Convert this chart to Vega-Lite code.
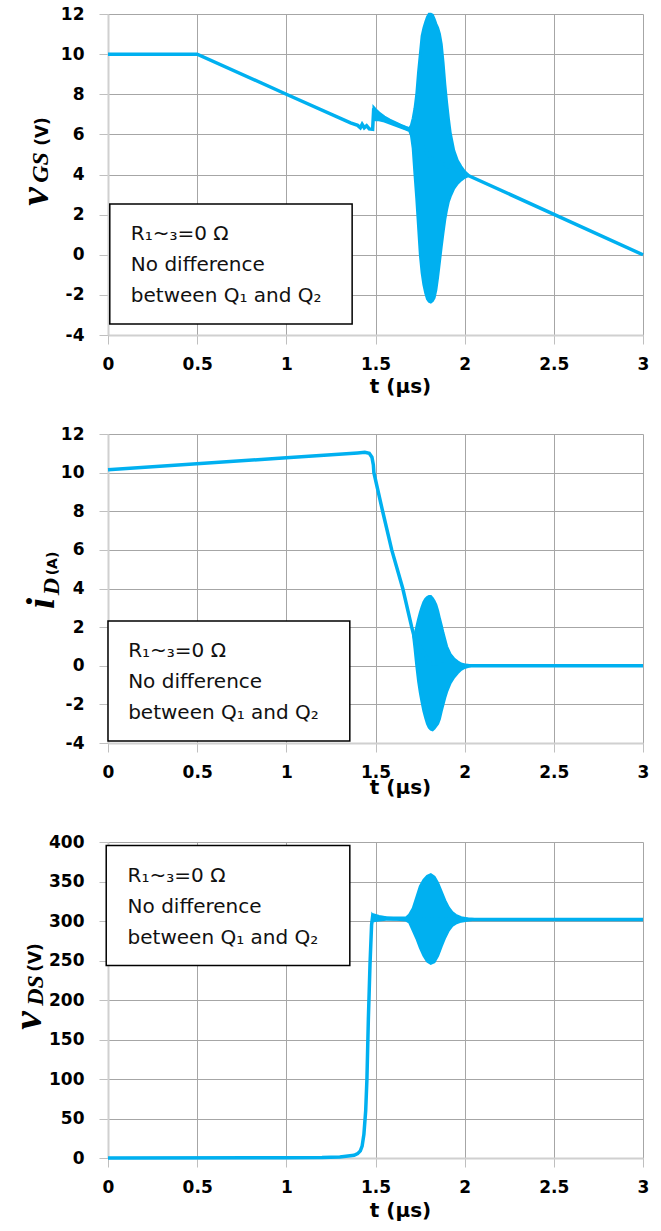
{
  "$schema": "https://vega.github.io/schema/vega-lite/v6.json",
  "background": "white",
  "padding": {"left": 6, "top": 5, "right": 2, "bottom": 5},
  "spacing": 99,
  "bounds": "flush",
  "datasets": {
    "gs_line": [
      {"t": 0, "v": 10}, {"t": 0.5, "v": 10}, {"t": 1.0, "v": 8.0}, {"t": 1.36, "v": 6.57}, {"t": 1.4, "v": 6.45},
      {"t": 1.415, "v": 6.33}, {"t": 1.425, "v": 6.5}, {"t": 1.437, "v": 6.33}, {"t": 1.45, "v": 6.43}, {"t": 1.465, "v": 6.27},
      {"t": 1.484, "v": 6.25}, {"t": 1.49, "v": 7.3}, {"t": 1.5, "v": 7.05}, {"t": 1.52, "v": 6.92}, {"t": 1.55, "v": 6.78},
      {"t": 1.6, "v": 6.57}, {"t": 1.65, "v": 6.38}, {"t": 1.69, "v": 6.25}, {"t": 1.7, "v": 6.2}, {"t": 1.81, "v": 4.8},
      {"t": 2.02, "v": 3.95}, {"t": 3.0, "v": 0.0}
    ],
    "gs_band": [
      {"t": 1.49, "lo": 6.75, "hi": 7.35}, {"t": 1.5, "lo": 6.72, "hi": 7.25}, {"t": 1.52, "lo": 6.72, "hi": 7.08},
      {"t": 1.55, "lo": 6.65, "hi": 6.88}, {"t": 1.58, "lo": 6.55, "hi": 6.72}, {"t": 1.61, "lo": 6.45, "hi": 6.6},
      {"t": 1.64, "lo": 6.35, "hi": 6.47}, {"t": 1.67, "lo": 6.25, "hi": 6.36}, {"t": 1.69, "lo": 6.18, "hi": 6.3},
      {"t": 1.7, "lo": 5.95, "hi": 6.45}, {"t": 1.71, "lo": 5.3, "hi": 6.8}, {"t": 1.72, "lo": 4.0, "hi": 7.3},
      {"t": 1.73, "lo": 2.8, "hi": 8.0}, {"t": 1.74, "lo": 1.4, "hi": 9.1}, {"t": 1.75, "lo": 0.0, "hi": 10.0},
      {"t": 1.76, "lo": -0.9, "hi": 10.9}, {"t": 1.77, "lo": -1.5, "hi": 11.3}, {"t": 1.78, "lo": -1.9, "hi": 11.6},
      {"t": 1.79, "lo": -2.2, "hi": 11.85}, {"t": 1.8, "lo": -2.33, "hi": 12.0}, {"t": 1.81, "lo": -2.37, "hi": 12.0},
      {"t": 1.82, "lo": -2.3, "hi": 11.95}, {"t": 1.83, "lo": -2.15, "hi": 11.75}, {"t": 1.84, "lo": -1.75, "hi": 11.5},
      {"t": 1.85, "lo": -1.1, "hi": 11.3}, {"t": 1.86, "lo": -0.35, "hi": 11.0}, {"t": 1.87, "lo": 0.4, "hi": 10.5},
      {"t": 1.88, "lo": 1.1, "hi": 9.6}, {"t": 1.89, "lo": 1.75, "hi": 8.5}, {"t": 1.9, "lo": 2.25, "hi": 7.6},
      {"t": 1.91, "lo": 2.65, "hi": 6.8}, {"t": 1.92, "lo": 2.9, "hi": 6.1}, {"t": 1.94, "lo": 3.3, "hi": 5.2},
      {"t": 1.96, "lo": 3.55, "hi": 4.7}, {"t": 1.98, "lo": 3.72, "hi": 4.4}, {"t": 2.0, "lo": 3.85, "hi": 4.15},
      {"t": 2.02, "lo": 3.93, "hi": 3.98}
    ],
    "id_line": [
      {"t": 0, "v": 10.15}, {"t": 1.0, "v": 10.77}, {"t": 1.4, "v": 11.02}, {"t": 1.44, "v": 11.05}, {"t": 1.465, "v": 11.0},
      {"t": 1.48, "v": 10.8}, {"t": 1.488, "v": 10.4}, {"t": 1.491, "v": 10.0}, {"t": 1.54, "v": 8.0}, {"t": 1.591, "v": 6.0},
      {"t": 1.653, "v": 4.0}, {"t": 1.703, "v": 2.0}, {"t": 1.72, "v": 1.4}, {"t": 1.81, "v": 0.1}, {"t": 2.03, "v": 0.0},
      {"t": 3.0, "v": 0.0}
    ],
    "id_band": [
      {"t": 1.712, "lo": 1.55, "hi": 1.75}, {"t": 1.72, "lo": 0.9, "hi": 1.6}, {"t": 1.73, "lo": 0.0, "hi": 2.0},
      {"t": 1.74, "lo": -0.8, "hi": 2.4}, {"t": 1.75, "lo": -1.4, "hi": 2.75}, {"t": 1.76, "lo": -1.9, "hi": 3.05},
      {"t": 1.77, "lo": -2.35, "hi": 3.3}, {"t": 1.78, "lo": -2.7, "hi": 3.45}, {"t": 1.79, "lo": -3.0, "hi": 3.55},
      {"t": 1.8, "lo": -3.2, "hi": 3.6}, {"t": 1.81, "lo": -3.3, "hi": 3.6}, {"t": 1.82, "lo": -3.33, "hi": 3.5},
      {"t": 1.83, "lo": -3.25, "hi": 3.35}, {"t": 1.84, "lo": -3.12, "hi": 3.15}, {"t": 1.85, "lo": -3.0, "hi": 2.85},
      {"t": 1.86, "lo": -2.75, "hi": 2.45}, {"t": 1.87, "lo": -2.35, "hi": 2.1}, {"t": 1.88, "lo": -2.0, "hi": 1.7},
      {"t": 1.89, "lo": -1.65, "hi": 1.35}, {"t": 1.9, "lo": -1.35, "hi": 1.0}, {"t": 1.92, "lo": -0.9, "hi": 0.6},
      {"t": 1.94, "lo": -0.6, "hi": 0.37}, {"t": 1.96, "lo": -0.38, "hi": 0.22}, {"t": 1.98, "lo": -0.2, "hi": 0.1},
      {"t": 2.0, "lo": -0.1, "hi": 0.05}, {"t": 2.03, "lo": -0.02, "hi": 0.02}
    ],
    "ds_line": [
      {"t": 0, "v": 0}, {"t": 1.0, "v": 0.2}, {"t": 1.2, "v": 0.5}, {"t": 1.3, "v": 1.3}, {"t": 1.38, "v": 3.5},
      {"t": 1.4, "v": 5.5}, {"t": 1.415, "v": 9}, {"t": 1.425, "v": 15}, {"t": 1.435, "v": 30}, {"t": 1.445, "v": 60},
      {"t": 1.452, "v": 100}, {"t": 1.46, "v": 176}, {"t": 1.469, "v": 244}, {"t": 1.478, "v": 295}, {"t": 1.484, "v": 306},
      {"t": 1.49, "v": 304}, {"t": 1.52, "v": 304}, {"t": 1.6, "v": 303}, {"t": 1.7, "v": 302.5}, {"t": 2.05, "v": 302},
      {"t": 3.0, "v": 302}
    ],
    "ds_band": [
      {"t": 1.49, "lo": 300, "hi": 308}, {"t": 1.52, "lo": 301, "hi": 306}, {"t": 1.56, "lo": 302, "hi": 304.5},
      {"t": 1.62, "lo": 302, "hi": 304}, {"t": 1.67, "lo": 301, "hi": 304}, {"t": 1.69, "lo": 298, "hi": 308},
      {"t": 1.71, "lo": 288, "hi": 316}, {"t": 1.73, "lo": 278, "hi": 330}, {"t": 1.75, "lo": 266, "hi": 344},
      {"t": 1.77, "lo": 256, "hi": 352}, {"t": 1.79, "lo": 249, "hi": 357}, {"t": 1.81, "lo": 246, "hi": 359},
      {"t": 1.83, "lo": 248, "hi": 356}, {"t": 1.85, "lo": 256, "hi": 348}, {"t": 1.87, "lo": 268, "hi": 337},
      {"t": 1.89, "lo": 279, "hi": 326}, {"t": 1.91, "lo": 288, "hi": 317}, {"t": 1.93, "lo": 294, "hi": 311},
      {"t": 1.95, "lo": 297, "hi": 307.5}, {"t": 1.98, "lo": 299.5, "hi": 304.5}, {"t": 2.02, "lo": 301, "hi": 303},
      {"t": 2.05, "lo": 301.7, "hi": 302.3}
    ]
  },
  "vconcat": [
    {
      "width": 535,
      "height": 321,
      "resolve": {"axis": {"y": "independent"}},
      "layer": [
        {
          "data": {"name": "gs_band"},
          "mark": {"type": "area", "color": "#00B0F0", "stroke": "#00B0F0", "strokeWidth": 2.5, "opacity": 1},
          "encoding": {
            "x": {"field": "t", "type": "quantitative", "scale": {"domain": [0, 3], "nice": false, "zero": false},
              "axis": {"values": [0, 0.5, 1, 1.5, 2, 2.5, 3], "format": "~g", "title": "t (μs)", "titleX": 292, "titleY": 57, "titleAlign": "center", "titleBaseline": "alphabetic"}},
            "y": {"field": "lo", "type": "quantitative", "scale": {"domain": [-4, 12], "nice": false, "zero": false},
              "axis": {"orient": "left", "values": [-4, -2, 0, 2, 4, 6, 8, 10, 12], "labelExpr": "replace(datum.label, '−', '-')",
                "title": "v", "titleFont": "Liberation Serif", "titleFontStyle": "italic", "titleFontWeight": "bold", "titleFontSize": 42,
                "titleX": -61, "titleY": 182, "titleAlign": "center", "titleBaseline": "alphabetic", "titleAngle": -90}},
            "y2": {"field": "hi"}
          }
        },
        {
          "data": {"name": "gs_line"},
          "mark": {"type": "line", "color": "#00B0F0", "strokeWidth": 3.5},
          "encoding": {
            "x": {"field": "t", "type": "quantitative"},
            "y": {"field": "v", "type": "quantitative",
              "axis": {"orient": "left", "title": "GS", "labels": false, "ticks": false, "domain": false, "grid": false,
                "titleFont": "Liberation Serif", "titleFontStyle": "italic", "titleFontWeight": "bold", "titleFontSize": 24,
                "titleX": -61, "titleY": 153, "titleAlign": "center", "titleBaseline": "alphabetic", "titleAngle": -90}}
          }
        },
        {
          "data": {"values": [{}]},
          "mark": {"type": "rect", "fill": "white", "stroke": "black", "strokeWidth": 1.5},
          "encoding": {
            "x": {"datum": 0.01, "type": "quantitative"},
            "x2": {"datum": 1.369},
            "y": {"datum": 2.53, "type": "quantitative",
              "axis": {"orient": "left", "title": "(V)", "labels": false, "ticks": false, "domain": false, "grid": false,
                "titleFont": "DejaVu Sans", "titleFontWeight": "bold", "titleFontSize": 17,
                "titleX": -61, "titleY": 117, "titleAlign": "center", "titleBaseline": "alphabetic", "titleAngle": -90}},
            "y2": {"datum": -3.45}
          }
        },
        {
          "data": {"values": [{}]},
          "mark": {"type": "text", "text": ["R₁~₃=0  Ω", "No difference", "between Q₁ and Q₂"], "align": "left", "baseline": "middle",
            "lineHeight": 31, "font": "DejaVu Sans", "fontSize": 20, "color": "#111"},
          "encoding": {
            "x": {"datum": 0.128, "type": "quantitative"},
            "y": {"datum": 1.03, "type": "quantitative", "axis": null}
          }
        }
      ]
    },
    {
      "width": 535,
      "height": 309,
      "resolve": {"axis": {"y": "independent"}},
      "layer": [
        {
          "data": {"name": "id_band"},
          "mark": {"type": "area", "color": "#00B0F0", "stroke": "#00B0F0", "strokeWidth": 2.5, "opacity": 1},
          "encoding": {
            "x": {"field": "t", "type": "quantitative", "scale": {"domain": [0, 3], "nice": false, "zero": false},
              "axis": {"values": [0, 0.5, 1, 1.5, 2, 2.5, 3], "format": "~g", "title": "t (μs)", "titleX": 292, "titleY": 50, "titleAlign": "center", "titleBaseline": "alphabetic"}},
            "y": {"field": "lo", "type": "quantitative", "scale": {"domain": [-4, 12], "nice": false, "zero": false},
              "axis": {"orient": "left", "values": [-4, -2, 0, 2, 4, 6, 8, 10, 12], "labelExpr": "replace(datum.label, '−', '-')",
                "title": "i", "titleFont": "Liberation Serif", "titleFontStyle": "italic", "titleFontWeight": "bold", "titleFontSize": 40,
                "titleX": -55, "titleY": 169, "titleAlign": "center", "titleBaseline": "alphabetic", "titleAngle": -90}},
            "y2": {"field": "hi"}
          }
        },
        {
          "data": {"name": "id_line"},
          "mark": {"type": "line", "color": "#00B0F0", "strokeWidth": 3.5},
          "encoding": {
            "x": {"field": "t", "type": "quantitative"},
            "y": {"field": "v", "type": "quantitative",
              "axis": {"orient": "left", "title": "D", "labels": false, "ticks": false, "domain": false, "grid": false,
                "titleFont": "Liberation Serif", "titleFontStyle": "italic", "titleFontWeight": "bold", "titleFontSize": 24,
                "titleX": -50, "titleY": 152, "titleAlign": "center", "titleBaseline": "alphabetic", "titleAngle": -90}}
          }
        },
        {
          "data": {"values": [{}]},
          "mark": {"type": "rect", "fill": "white", "stroke": "black", "strokeWidth": 1.5},
          "encoding": {
            "x": {"datum": 0.0, "type": "quantitative"},
            "x2": {"datum": 1.356},
            "y": {"datum": 2.32, "type": "quantitative",
              "axis": {"orient": "left", "title": "(A)", "labels": false, "ticks": false, "domain": false, "grid": false,
                "titleFont": "DejaVu Sans", "titleFontWeight": "bold", "titleFontSize": 14,
                "titleX": -52, "titleY": 129, "titleAlign": "center", "titleBaseline": "alphabetic", "titleAngle": -90}},
            "y2": {"datum": -3.9}
          }
        },
        {
          "data": {"values": [{}]},
          "mark": {"type": "text", "text": ["R₁~₃=0  Ω", "No difference", "between Q₁ and Q₂"], "align": "left", "baseline": "middle",
            "lineHeight": 31, "font": "DejaVu Sans", "fontSize": 20, "color": "#111"},
          "encoding": {
            "x": {"datum": 0.113, "type": "quantitative"},
            "y": {"datum": 0.76, "type": "quantitative", "axis": null}
          }
        }
      ]
    },
    {
      "width": 535,
      "height": 316,
      "resolve": {"axis": {"y": "independent"}},
      "layer": [
        {
          "data": {"name": "ds_band"},
          "mark": {"type": "area", "color": "#00B0F0", "stroke": "#00B0F0", "strokeWidth": 2.5, "opacity": 1},
          "encoding": {
            "x": {"field": "t", "type": "quantitative", "scale": {"domain": [0, 3], "nice": false, "zero": false},
              "axis": {"values": [0, 0.5, 1, 1.5, 2, 2.5, 3], "format": "~g", "title": "t (μs)", "titleX": 292, "titleY": 58, "titleAlign": "center", "titleBaseline": "alphabetic"}},
            "y": {"field": "lo", "type": "quantitative", "scale": {"domain": [0, 400], "nice": false, "zero": false},
              "axis": {"orient": "left", "values": [0, 50, 100, 150, 200, 250, 300, 350, 400],
                "title": "v", "titleFont": "Liberation Serif", "titleFontStyle": "italic", "titleFontWeight": "bold", "titleFontSize": 42,
                "titleX": -68, "titleY": 178, "titleAlign": "center", "titleBaseline": "alphabetic", "titleAngle": -90}},
            "y2": {"field": "hi"}
          }
        },
        {
          "data": {"name": "ds_line"},
          "mark": {"type": "line", "color": "#00B0F0", "strokeWidth": 3.5},
          "encoding": {
            "x": {"field": "t", "type": "quantitative"},
            "y": {"field": "v", "type": "quantitative",
              "axis": {"orient": "left", "title": "DS", "labels": false, "ticks": false, "domain": false, "grid": false,
                "titleFont": "Liberation Serif", "titleFontStyle": "italic", "titleFontWeight": "bold", "titleFontSize": 24,
                "titleX": -66, "titleY": 148, "titleAlign": "center", "titleBaseline": "alphabetic", "titleAngle": -90}}
          }
        },
        {
          "data": {"values": [{}]},
          "mark": {"type": "rect", "fill": "white", "stroke": "black", "strokeWidth": 1.5},
          "encoding": {
            "x": {"datum": -0.01, "type": "quantitative"},
            "x2": {"datum": 1.356},
            "y": {"datum": 395.6, "type": "quantitative",
              "axis": {"orient": "left", "title": "(V)", "labels": false, "ticks": false, "domain": false, "grid": false,
                "titleFont": "DejaVu Sans", "titleFontWeight": "bold", "titleFontSize": 17,
                "titleX": -68, "titleY": 115, "titleAlign": "center", "titleBaseline": "alphabetic", "titleAngle": -90}},
            "y2": {"datum": 243.6}
          }
        },
        {
          "data": {"values": [{}]},
          "mark": {"type": "text", "text": ["R₁~₃=0  Ω", "No difference", "between Q₁ and Q₂"], "align": "left", "baseline": "middle",
            "lineHeight": 31, "font": "DejaVu Sans", "fontSize": 20, "color": "#111"},
          "encoding": {
            "x": {"datum": 0.11, "type": "quantitative"},
            "y": {"datum": 357, "type": "quantitative", "axis": null}
          }
        }
      ]
    }
  ],
  "config": {
    "view": {"stroke": null},
    "axis": {
      "labelFont": "DejaVu Sans", "labelFontWeight": "bold", "labelFontSize": 17, "labelColor": "#000",
      "gridColor": "#a6a6a6", "gridWidth": 1, "gridOpacity": 1,
      "domainColor": "#d0d0d0", "domainWidth": 2,
      "tickColor": "#bfbfbf", "tickSize": 9, "tickWidth": 1,
      "titleColor": "#000", "titleFont": "DejaVu Sans", "titleFontWeight": "bold", "titleFontSize": 20
    },
    "axisX": {"labelPadding": 12, "labelFlush": false},
    "axisY": {"labelPadding": 15}
  }
}
